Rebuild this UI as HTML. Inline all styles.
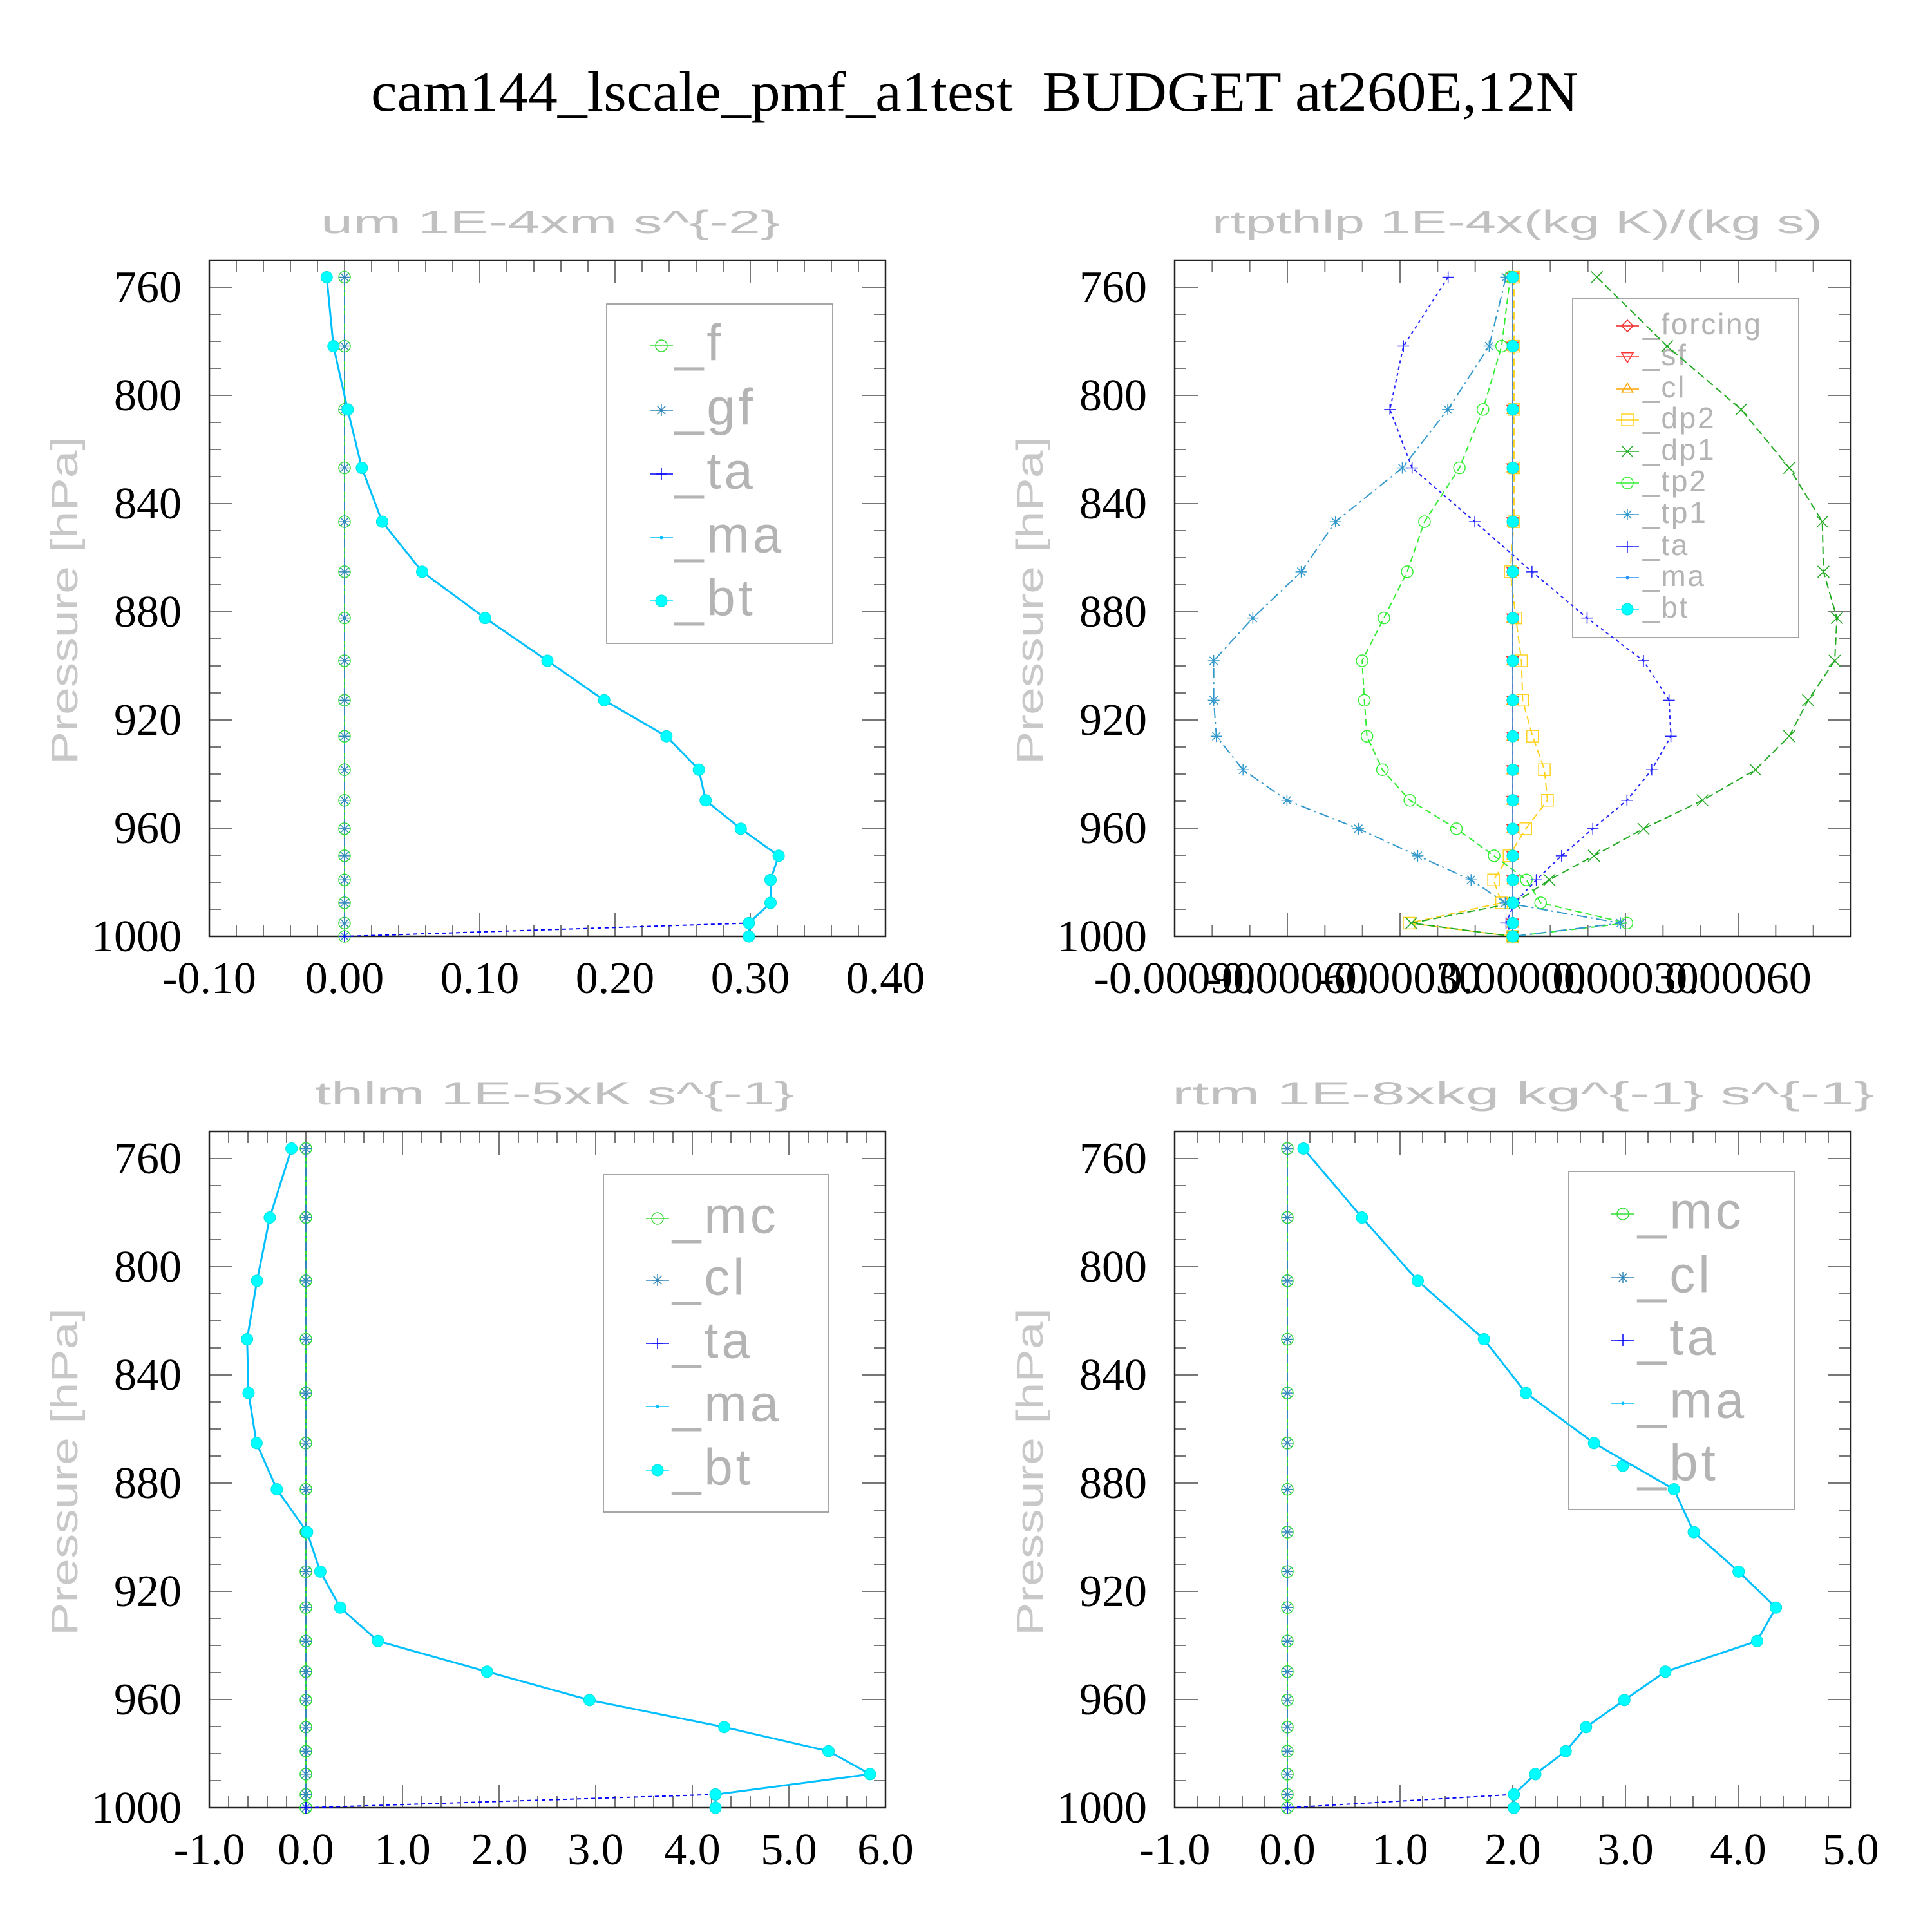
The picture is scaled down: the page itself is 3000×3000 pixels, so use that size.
<!DOCTYPE html>
<html><head><meta charset="utf-8"><style>
html,body{margin:0;padding:0;background:#fff;}
svg{display:block;}
</style></head><body>
<svg id="root" xmlns="http://www.w3.org/2000/svg" width="3000" height="3000" viewBox="0 0 3000 3000">
<rect x="0" y="0" width="3000" height="3000" fill="#fff"/>
<text x="576" y="172" font-family="Liberation Serif, serif" font-size="88" fill="#000" textLength="1875" lengthAdjust="spacingAndGlyphs" xml:space="preserve">cam144_lscale_pmf_a1test  BUDGET at260E,12N</text>
</svg>
<script>
// ---- data ----
const levels = [756.3,781.8,805.2,826.8,846.7,865.2,882.3,898.1,912.7,926.0,938.4,949.7,960.2,970.2,979.1,987.6,995.1,1000];
const zeroSeries = [0,0,0,0,0,0,0,0,0,0,0,0,0,0,0,0,0,0];
const umBt = [-0.0132,-0.0082,0.0023,0.0128,0.0278,0.0574,0.1039,0.150,0.192,0.238,0.262,0.267,0.293,0.321,0.315,0.315,0.299,0.299];
const thlmBt = [-0.149,-0.374,-0.506,-0.609,-0.594,-0.511,-0.301,0.012,0.149,0.355,0.746,1.875,2.936,4.33,5.41,5.84,4.24,4.24];
const rtmBt = [0.143,0.662,1.157,1.744,2.117,2.721,3.43,3.606,4.004,4.335,4.168,3.354,2.99,2.65,2.47,2.20,2.01,2.01];
const rtTp1 = [-0.0000182,-0.0000628,-0.000173,-0.000294,-0.000472,-0.000563,-0.000692,-0.000796,-0.000796,-0.000789,-0.000718,-0.000601,-0.000411,-0.000253,-0.000111,-0.00002,0.000287,0];
const rtDp1 = [0.000224,0.000411,0.000608,0.000736,0.000824,0.000827,0.000863,0.000857,0.000786,0.000736,0.000646,0.000505,0.000348,0.000216,0.0000974,0.000005,-0.00027,0];
const rtTp2 = [-0.0000067,-0.0000297,-0.0000793,-0.000142,-0.000235,-0.000281,-0.000343,-0.000401,-0.000395,-0.000388,-0.000347,-0.000274,-0.000150,-0.0000496,0.0000362,0.0000742,0.000304,0];
const rtTa = [-0.000172,-0.000291,-0.000327,-0.000268,-0.000101,0.0000512,0.000198,0.000348,0.000416,0.000421,0.000370,0.000304,0.000213,0.000130,0.0000627,0.000005,-0.000018,0];
const rtDp2 = [0.0000033,0.0000033,0.0000033,0.0000033,0.0000033,-0.0000066,0.0000083,0.0000231,0.0000264,0.0000528,0.0000842,0.0000925,0.0000347,-0.0000099,-0.0000512,-0.0000297,-0.000276,0];
const yTickLabels = ["760","800","840","880","920","960","1000"];
const umXLabels = ["-0.10","0.00","0.10","0.20","0.30","0.40"];
const rtpXLabels = ["-0.00090","-0.00060","-0.00030","0.00000","0.00030","0.00060"];
const thlmXLabels = ["-1.0","0.0","1.0","2.0","3.0","4.0","5.0","6.0"];
const rtmXLabels = ["-1.0","0.0","1.0","2.0","3.0","4.0","5.0"];

// ---- helpers ----
const NS = "http://www.w3.org/2000/svg";
const root = document.getElementById('root');
function mk(tag, parent, attrs) {
  const e = document.createElementNS(NS, tag);
  for (const k in attrs) e.setAttribute(k, attrs[k]);
  parent.appendChild(e);
  return e;
}
function taOf(bt) { const a = bt.slice(); a[a.length-1] = 0; return a; }

function marker(g, type, cx, cy, color) {
  const r = 9;
  let m;
  if (type === 'circle') m = mk('circle', g, {cx:cx, cy:cy, r:r, fill:'none', stroke:color, 'stroke-width':1.5});
  else if (type === 'fcircle') m = mk('circle', g, {cx:cx, cy:cy, r:r, fill:'#00ffff', stroke:'#00e0e0', 'stroke-width':1});
  else if (type === 'dot') m = mk('circle', g, {cx:cx, cy:cy, r:2.5, fill:color});
  else if (type === 'x') m = mk('path', g, {d:`M${cx-r} ${cy-r}L${cx+r} ${cy+r}M${cx-r} ${cy+r}L${cx+r} ${cy-r}`, stroke:color, 'stroke-width':1.5, fill:'none'});
  else if (type === 'plus') m = mk('path', g, {d:`M${cx-r} ${cy}L${cx+r} ${cy}M${cx} ${cy-r}L${cx} ${cy+r}`, stroke:color, 'stroke-width':1.5, fill:'none'});
  else if (type === 'ast') m = mk('path', g, {d:`M${cx-r} ${cy}L${cx+r} ${cy}M${cx-r*0.7} ${cy-r*0.7}L${cx+r*0.7} ${cy+r*0.7}M${cx-r*0.7} ${cy+r*0.7}L${cx+r*0.7} ${cy-r*0.7}M${cx} ${cy-r}L${cx} ${cy+r}`, stroke:color, 'stroke-width':1.5, fill:'none'});
  else if (type === 'square') m = mk('rect', g, {x:cx-r, y:cy-r, width:2*r, height:2*r, fill:'none', stroke:color, 'stroke-width':1.5});
  else if (type === 'diamond') m = mk('path', g, {d:`M${cx} ${cy-r}L${cx+r} ${cy}L${cx} ${cy+r}L${cx-r} ${cy}Z`, fill:'none', stroke:color, 'stroke-width':1.5});
  else if (type === 'tdown') m = mk('path', g, {d:`M${cx-r} ${cy-r*0.7}L${cx+r} ${cy-r*0.7}L${cx} ${cy+r}Z`, fill:'none', stroke:color, 'stroke-width':1.5});
  else if (type === 'tup') m = mk('path', g, {d:`M${cx-r} ${cy+r*0.7}L${cx+r} ${cy+r*0.7}L${cx} ${cy-r}Z`, fill:'none', stroke:color, 'stroke-width':1.5});
  return m;
}

function drawPanel(cfg) {
  const g = mk('g', root, {});
  
  
  const X0 = cfg.x0, Y0 = cfg.y0, W = 1050, H = 1050;
  const sx = v => X0 + (v - cfg.xmin) / (cfg.xmax - cfg.xmin) * W;
  const sy = p => Y0 + (p - 750) / 250 * H;

  const t = mk('text', g, {x:cfg.tx0, y:Y0-42, 'font-family':'Liberation Sans, sans-serif', 'font-size':50, fill:'#c0c0c0', textLength:cfg.tx1-cfg.tx0, lengthAdjust:'spacingAndGlyphs', 'xml:space':'preserve'});
  t.textContent = cfg.title;
  
  

  const yt = mk('text', g, {x:0, y:0, transform:`translate(${X0-205},${Y0+783}) rotate(-90)`, 'font-family':'Liberation Sans, sans-serif', 'font-size':58, fill:'#c8c8c8', textLength:509, lengthAdjust:'spacingAndGlyphs'});
  yt.textContent = 'Pressure [hPa]';
  
  

  const tg = mk('g', g, {stroke:'#777', 'stroke-width':2});
  
  
  for (let p = 760; p < 1000; p += 10) {
    const major = (p % 40 === 0);
    const L = major ? 36 : 18;
    mk('line', tg, {x1:X0, y1:sy(p), x2:X0+L, y2:sy(p)});
    mk('line', tg, {x1:X0+W, y1:sy(p), x2:X0+W-L, y2:sy(p)});
  }
  const nMinor = Math.round((cfg.xmax - cfg.xmin) / cfg.minor);
  for (let i = 1; i < nMinor; i++) {
    const v = cfg.xmin + i * cfg.minor;
    const major = Math.abs(Math.round(v / cfg.major) * cfg.major - v) < cfg.minor * 0.01;
    const L = major ? 36 : 18;
    mk('line', tg, {x1:sx(v), y1:Y0+H, x2:sx(v), y2:Y0+H-L});
    mk('line', tg, {x1:sx(v), y1:Y0, x2:sx(v), y2:Y0+L});
  }
  const box = mk('rect', g, {x:X0, y:Y0, width:W, height:H, fill:'none', stroke:'#222', 'stroke-width':2.5});
  
  

  yTickLabels.forEach(s => {
    const p = parseFloat(s);
    const e = mk('text', g, {x:X0-43, y:sy(p)+23, 'text-anchor':'end', 'font-family':'Liberation Serif, serif', 'font-size':70, fill:'#000'});
    e.textContent = s;
    
    
  });
  cfg.xLabels.forEach(s => {
    const v = parseFloat(s);
    const e = mk('text', g, {x:sx(v), y:Y0+H+88, 'text-anchor':'middle', 'font-family':'Liberation Serif, serif', 'font-size':70, fill:'#000'});
    e.textContent = s;
    
    
  });

  // legend (transparent, drawn under series)
  const L = cfg.legend;
  const lg = mk('g', g, {});
  
  
  mk('rect', lg, {x:L.x0, y:L.y0, width:L.x1-L.x0, height:L.y1-L.y0, fill:'none', stroke:'#888', 'stroke-width':1.5});
  cfg.series.forEach((s, i) => {
    const yy = L.items[i];
    const le = mk('g', lg, {});
    
    
    mk('line', le, {x1:L.mx-18, y1:yy, x2:L.mx+18, y2:yy, stroke:s.color, 'stroke-width':1.5});
    marker(le, s.marker, L.mx, yy, s.color);
    const tx = mk('text', le, {x:L.tx, y:yy+L.fs*0.28, 'font-family':'Liberation Sans, sans-serif', 'font-size':L.fs, fill:'#b4b4b4', 'letter-spacing':L.fs*0.06});
    tx.textContent = '_' + s.label;
  });

  cfg.series.forEach(s => {
    const sg = mk('g', g, {});
    
    
    const pts = s.values.map((v, i) => sx(v) + ',' + sy(levels[i])).join(' ');
    if (s.line) {
      const pl = mk('polyline', sg, {points:pts, fill:'none', stroke:s.color, 'stroke-width':s.w || 2, 'stroke-dasharray':s.dash || 'none'});
      
      
    }
    s.values.forEach((v, i) => {
      const m = marker(sg, s.marker, sx(v), sy(levels[i]), s.color);
      
      
    });
  });
}

function simpleSeries(bt, names) {
  return [
    {label:names[0], values:zeroSeries, marker:'circle', color:'#33dd33', line:true, w:2},
    {label:names[1], values:zeroSeries, marker:'ast', color:'#3388bb', line:true, dash:'14,6,3,6', w:2},
    {label:'ta', values:taOf(bt), marker:'plus', color:'#0000ff', line:true, dash:'6,5', w:2},
    {label:'ma', values:bt, marker:'dot', color:'#00bfff', line:true, w:3},
    {label:'bt', values:bt, marker:'fcircle', color:'#00e5ff', line:false}
  ];
}

drawPanel({name:'panel-um', x0:325, y0:404, xmin:-0.1, xmax:0.4, minor:0.02, major:0.1,
  xLabels:umXLabels, title:'um  1E-4xm s^{-2}', tx0:498, tx1:1211,
  series:simpleSeries(umBt, ['f','gf']),
  legend:{x0:942, y0:472, x1:1293, y1:999, items:[537,637,736,835,933], mx:1027, tx:1048, fs:80}});

drawPanel({name:'panel-thlm', x0:325, y0:1757, xmin:-1, xmax:6, minor:0.2, major:1,
  xLabels:thlmXLabels, title:'thlm  1E-5xK s^{-1}', tx0:489, tx1:1233,
  series:simpleSeries(thlmBt, ['mc','cl']),
  legend:{x0:937, y0:1824, x1:1287, y1:2348, items:[1892,1988,2086,2184,2283], mx:1021, tx:1044, fs:80}});

drawPanel({name:'panel-rtm', x0:1824, y0:1757, xmin:-1, xmax:5, minor:0.2, major:1,
  xLabels:rtmXLabels, title:'rtm  1E-8xkg kg^{-1} s^{-1}', tx0:1820, tx1:2910,
  series:simpleSeries(rtmBt, ['mc','cl']),
  legend:{x0:2436, y0:1819, x1:2786, y1:2344, items:[1885,1984,2081,2179,2276], mx:2520, tx:2543, fs:80}});

drawPanel({name:'panel-rtpthlp', x0:1824, y0:404, xmin:-0.0009, xmax:0.0009, minor:0.0001, major:0.0003,
  xLabels:rtpXLabels, title:'rtpthlp  1E-4x(kg K)/(kg s)', tx0:1882, tx1:2830,
  series:[
    {label:'forcing', values:zeroSeries, marker:'diamond', color:'#ee2222', line:true, w:2},
    {label:'sf', values:zeroSeries, marker:'tdown', color:'#ff3333', line:true, w:2},
    {label:'cl', values:zeroSeries, marker:'tup', color:'#ffa500', line:true, dash:'8,5', w:2},
    {label:'dp2', values:rtDp2, marker:'square', color:'#ffd21f', line:true, dash:'12,6', w:2},
    {label:'dp1', values:rtDp1, marker:'x', color:'#22aa22', line:true, dash:'12,6', w:2},
    {label:'tp2', values:rtTp2, marker:'circle', color:'#33ee33', line:true, dash:'10,6', w:2},
    {label:'tp1', values:rtTp1, marker:'ast', color:'#3399cc', line:true, dash:'16,6,3,6', w:2},
    {label:'ta', values:rtTa, marker:'plus', color:'#2222ff', line:true, dash:'5,5', w:2},
    {label:'ma', values:zeroSeries, marker:'dot', color:'#1e90ff', line:true, w:1.5},
    {label:'bt', values:zeroSeries, marker:'fcircle', color:'#00e5ff', line:false}
  ],
  legend:{x0:2442, y0:463, x1:2793, y1:990, items:[506,554,604,652,701,750,799,849,897,946], mx:2527, tx:2551, fs:46}});
</script>
</body></html>
